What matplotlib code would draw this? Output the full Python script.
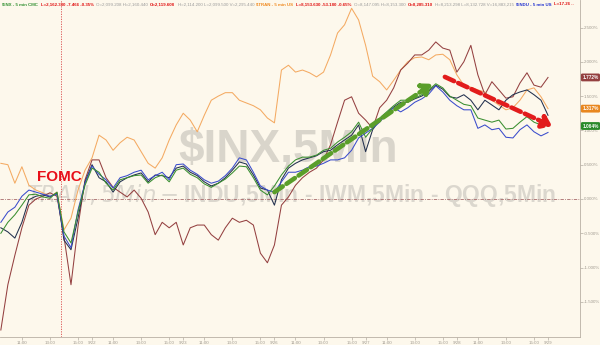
"""FOMC 以降の 5 分足チャート（$INX / $TRAN / $INDU / IWM / QQQ の騰落率比較）を再現する。"""

import matplotlib

matplotlib.use("Agg")  # ヘッドレス環境
import matplotlib.pyplot as plt  # noqa: E402
from matplotlib.transforms import blended_transform_factory  # noqa: E402

# 30 分ごとのサンプル。t = 最初の寄り付きからの取引時間 [h]（1 セッション 6.5 h）
STEP_H = 0.5
SESSION_H = 6.5
FOMC_T = 4.3

# % change（各セッション 13 点 + 最終点）
inx = [-0.50, -0.34, -0.23, -0.09, 0.06, 0.07, 0.03, 0.01, 0.10, -0.48, -0.64, -0.19, 0.20,
       0.45, 0.39, 0.23, 0.13, 0.28, 0.31, 0.34, 0.35, 0.23, 0.31, 0.35, 0.25, 0.42,
       0.45, 0.36, 0.31, 0.22, 0.17, 0.23, 0.29, 0.38, 0.48, 0.47, 0.31, 0.13, 0.06,
       0.19, 0.35, 0.48, 0.57, 0.61, 0.61, 0.64, 0.71, 0.74, 0.83, 0.90, 0.98, 1.12,
       0.90, 1.03, 1.18, 1.27, 1.36, 1.44, 1.44, 1.47, 1.52, 1.59, 1.68, 1.62, 1.50,
       1.44, 1.38, 1.36, 1.18, 1.15, 1.12, 1.15, 1.02, 1.03, 1.12, 1.20, 1.12, 1.08,
       1.064]
tran = [0.52, 0.50, 0.23, 0.47, 0.20, 0.13, 0.09, 0.03, 0.10, -0.45, -0.28, 0.13, 0.42,
        0.60, 0.93, 0.86, 0.71, 0.82, 0.90, 0.86, 0.69, 0.52, 0.45, 0.60, 0.86, 1.08,
        1.25, 1.15, 0.98, 1.22, 1.44, 1.50, 1.55, 1.55, 1.44, 1.40, 1.36, 1.30, 1.18,
        1.11, 1.88, 1.95, 1.85, 1.88, 1.84, 1.78, 1.85, 2.10, 2.42, 2.54, 2.78, 2.61,
        2.24, 1.79, 1.71, 1.59, 1.73, 1.88, 2.00, 2.06, 2.07, 2.03, 2.10, 2.11, 2.03,
        1.81, 1.66, 1.63, 1.59, 1.56, 1.44, 1.37, 1.30, 1.33, 1.44, 1.59, 1.62, 1.49,
        1.317]
indu = [-0.34, -0.19, -0.12, 0.04, 0.13, 0.10, 0.07, 0.04, 0.07, -0.54, -0.71, -0.16, 0.23,
        0.48, 0.36, 0.28, 0.16, 0.31, 0.34, 0.39, 0.42, 0.28, 0.34, 0.39, 0.28, 0.50,
        0.51, 0.42, 0.36, 0.28, 0.23, 0.26, 0.34, 0.45, 0.60, 0.57, 0.39, 0.19, 0.13,
        0.10, 0.25, 0.39, 0.39, 0.42, 0.47, 0.48, 0.52, 0.57, 0.57, 0.60, 0.71, 0.89,
        0.96, 1.03, 1.12, 1.24, 1.33, 1.27, 1.33, 1.41, 1.46, 1.53, 1.65, 1.56, 1.44,
        1.36, 1.30, 1.30, 1.03, 1.08, 1.01, 1.03, 0.90, 0.89, 1.01, 1.08, 0.98, 0.92,
        0.97]
iwm = [-1.91, -1.25, -0.82, -0.42, -0.09, 0.00, 0.04, 0.09, 0.04, -0.55, -1.25, -0.40, 0.28,
       0.57, 0.57, 0.31, 0.17, 0.10, 0.03, 0.13, 0.01, -0.19, -0.52, -0.34, -0.42, -0.34,
       -0.67, -0.42, -0.38, -0.38, -0.52, -0.60, -0.42, -0.28, -0.34, -0.31, -0.38, -0.79, -0.93,
       -0.67, -0.09, 0.03, 0.20, 0.31, 0.39, 0.45, 0.57, 0.79, 1.12, 1.44, 1.49, 1.25,
       1.15, 1.03, 1.33, 1.44, 1.62, 1.88, 1.98, 2.10, 2.10, 2.17, 2.29, 2.20, 2.17,
       1.85, 2.00, 2.24, 1.81, 1.52, 1.71, 1.59, 1.47, 1.49, 1.69, 1.84, 1.66, 1.63,
       1.772]
qqq = [-0.42, -0.48, -0.57, -0.34, -0.01, 0.04, 0.06, 0.03, 0.09, -0.60, -0.74, -0.28, 0.25,
       0.50, 0.31, 0.25, 0.10, 0.25, 0.31, 0.35, 0.38, 0.25, 0.35, 0.34, 0.31, 0.45,
       0.48, 0.39, 0.34, 0.25, 0.19, 0.23, 0.31, 0.42, 0.54, 0.51, 0.35, 0.16, 0.13,
       -0.09, 0.28, 0.45, 0.52, 0.57, 0.60, 0.63, 0.69, 0.71, 0.79, 0.86, 0.93, 1.08,
       0.69, 1.01, 1.15, 1.25, 1.34, 1.41, 1.41, 1.46, 1.50, 1.57, 1.66, 1.60, 1.49,
       1.47, 1.52, 1.44, 1.30, 1.44, 1.37, 1.30, 1.44, 1.52, 1.56, 1.59, 1.52, 1.44,
       1.22]

session_labels = ["9/22", "9/23", "9/26", "9/27", "9/28", "9/29"]
hour_labels = ["11:00", "13:00", "15:00"]
hour_offsets = [1.5, 3.5, 5.5]
y_ticks = [-1.5, -1.0, -0.5, 0.0, 0.5, 1.0, 1.5, 2.0, 2.5]

# ヘッダー（ティッカー情報）: (文字列, 色)
header = [
    ("$INX - 5 min CMC", "#2f8f2f"),
    ("L=2,162.330 -7.466 -0.35%", "#e01010"),
    ("O=2,099.208 H=2,160.440", "#9a9a9a"),
    ("O=2,119.608", "#e01010"),
    ("H=2,114.200 L=2,099.500 V=2,295.440", "#9a9a9a"),
    ("$TRAN - 5 min US", "#f08a20"),
    ("L=8,153.630 -53.180 -0.65%", "#e01010"),
    ("O=8,147.095 H=8,153.300", "#9a9a9a"),
    ("O=8,285.310", "#e01010"),
    ("H=8,213.298 L=8,132.728 V=16,883,215", "#9a9a9a"),
    ("$INDU - 5 min US", "#2030d0"),
    ("L=17.26 ..", "#e01010"),
]

BG = "#fdf8ec"
C_TRAN = "#f4aa62"
C_IWM = "#944040"
C_QQQ = "#22304e"
C_INDU = "#3a4ccc"
C_INX = "#3a8f30"

plt.rcParams["font.family"] = ["Liberation Sans", "DejaVu Sans"]

fig = plt.figure(figsize=(6.0, 3.45), dpi=100, facecolor=BG)
ax = fig.add_axes([0.0, 8 / 345, 580 / 600, 337 / 345], facecolor=BG)

t = [i * STEP_H for i in range(len(inx))]

# 透かし文字
ax.text(0.497, 0.555, "$INX,5Min", transform=ax.transAxes, ha="center", va="center",
        fontsize=33, fontweight="bold", color="#d3cfc6", alpha=0.85, zorder=1)
ax.text(0.502, 0.421, "$TRAN,5Min - $INDU,5Min - IWM,5Min - QQQ,5Min",
        transform=ax.transAxes, ha="center", va="center", fontsize=16.5,
        fontweight="bold", color="#d6d2c9", alpha=0.85, zorder=1)

ax.axhline(0, color="#a86a6a", lw=0.6, ls=(0, (4, 1.5, 1, 1.5)), zorder=2)
ax.axvline(FOMC_T, color="#d84a4a", lw=0.6, ls=(0, (1.5, 1.5)), zorder=2)

for series, color in [(tran, C_TRAN), (iwm, C_IWM), (qqq, C_QQQ), (indu, C_INDU), (inx, C_INX)]:
    ax.plot(t, series, color=color, lw=0.75, zorder=3)

ax.text(2.55, 0.32, "FOMC", color="#e8101a", fontsize=11, fontweight="bold",
        ha="left", va="center", zorder=6)

# トレンド矢印（破線）
ax.annotate("", xy=(30.75, 1.68), xytext=(19.5, 0.10),
            arrowprops=dict(arrowstyle="-|>,head_length=0.55,head_width=0.4",
                            color="#5a9e2a", lw=3.3, linestyle=(0, (2.2, 1.0)),
                            mutation_scale=10, shrinkA=0, shrinkB=0), zorder=5)
ax.annotate("", xy=(39.3, 1.06), xytext=(31.65, 1.78),
            arrowprops=dict(arrowstyle="-|>,head_length=0.55,head_width=0.4",
                            color="#e21c1c", lw=3.3, linestyle=(0, (2.2, 1.0)),
                            mutation_scale=10, shrinkA=0, shrinkB=0), zorder=5)

# 右端の最終値ラベル
tr = blended_transform_factory(ax.transAxes, ax.transData)
for series, color in [(iwm, C_IWM), (tran, "#e8861e"), (inx, "#2a8a2a")]:
    ax.text(1.004, series[-1], f"{series[-1]:.3f}%", transform=tr, fontsize=3.4,
            color="white", fontweight="bold", ha="left", va="center", clip_on=False,
            bbox=dict(boxstyle="round,pad=0.3", fc=color, ec="none"))

ax.set_xlim(-0.06, 41.28)
ax.set_ylim(-2.012, 2.901)

ax.yaxis.tick_right()
ax.set_yticks(y_ticks)
ax.set_yticklabels([f"{v:.3f}%" for v in y_ticks])

xt, xl = [], []
for d, lab in enumerate(session_labels):
    for off, hl in zip(hour_offsets, hour_labels):
        xt.append(d * SESSION_H + off)
        xl.append(hl)
    xt.append((d + 1) * SESSION_H)
    xl.append(lab)
ax.set_xticks(xt)
ax.set_xticklabels(xl)

ax.tick_params(axis="both", labelsize=3.2, colors="#a09a90", length=1.8, width=0.4, pad=0.8)
for side in ("left", "top"):
    ax.spines[side].set_visible(False)
for side in ("right", "bottom"):
    ax.spines[side].set_color("#b8b0a4")
    ax.spines[side].set_linewidth(0.6)

# ヘッダー文字列を横に連結
prev = fig.text(0.004, 0.987, header[0][0], color=header[0][1], fontsize=3.2,
                fontweight="bold", va="center", ha="left")
for s, c in header[1:]:
    bold = c != "#9a9a9a"
    prev = ax.annotate(s, xy=(1, 0.5), xycoords=prev, xytext=(1.7, 0),
                       textcoords="offset points", color=c, fontsize=3.2,
                       fontweight="bold" if bold else "normal", va="center", ha="left",
                       annotation_clip=False)

fig.savefig("out.png", dpi=100, facecolor=BG)
